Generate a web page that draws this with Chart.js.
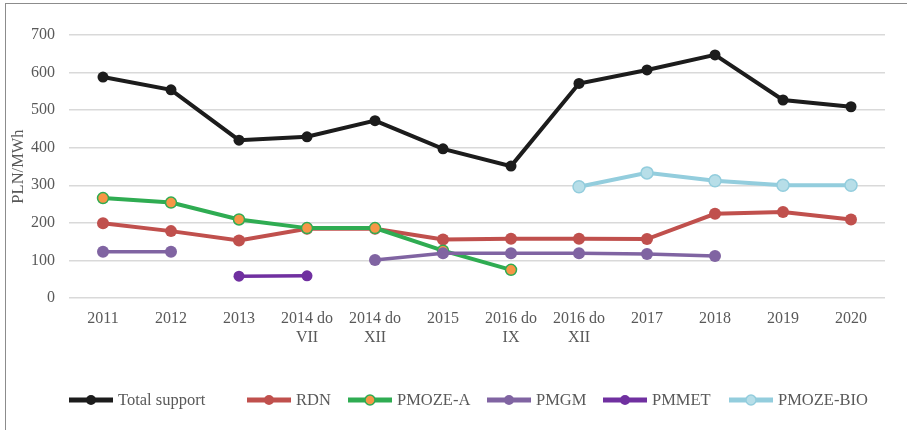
<!DOCTYPE html>
<html>
<head>
<meta charset="utf-8">
<script src="https://cdn.jsdelivr.net/npm/chart.js@4.4.1/dist/chart.umd.min.js"></script>
<style>
  html, body { margin: 0; padding: 0; background: #fff; }
  #wrap { position: relative; width: 907px; height: 430px; overflow: hidden; }
  #frame { position: absolute; left: 5px; top: 3px; width: 920px; height: 440px;
           border-top: 1.5px solid #8c8c8c; border-left: 1.5px solid #8c8c8c; box-sizing: border-box; pointer-events: none; }
  canvas { position: absolute; left: 0; top: 0; }
</style>
</head>
<body>
<div id="wrap">
  <canvas id="c" width="907" height="430"></canvas>
  <div id="frame"></div>
</div>
<script>
const categories = ['2011', '2012', '2013', ['2014 do', 'VII'], ['2014 do', 'XII'], '2015',
  ['2016 do', 'IX'], ['2016 do', 'XII'], '2017', '2018', '2019', '2020'];
const seriesNames = ['Total support', 'RDN', 'PMOZE-A', 'PMGM', 'PMMET', 'PMOZE-BIO'];
const totalSupport = [588, 554, 420, 429, 472, 397, 351, 571, 607, 647, 527, 509];
const rdn = [199, 178, 153, 184, 184, 156, 158, 158, 157, 224, 229, 209];
const pmozeA = [266, 254, 209, 186, 186, 126, 75, null, null, null, null, null];
const pmgm = [123, 123, null, null, 101, 119, 119, 119, 117, 112, null, null];
const pmmet = [null, null, 58, 59, null, null, null, null, null, null, null, null];
const pmozeBio = [null, null, null, null, null, null, null, 296, 333, 312, 300, 300];
const yTicks = [0, 100, 200, 300, 400, 500, 600, 700];

const FONT = "'Liberation Serif', 'Times New Roman', serif";
const TXT = '#595959';

const styles = [
  { line: '#1c1c1c', fill: '#1c1c1c', border: '#1c1c1c', lw: 4, r: 5.5 },
  { line: '#c0504d', fill: '#c0504d', border: '#c0504d', lw: 4, r: 6 },
  { line: '#2fac52', fill: '#f79646', border: '#2fac52', lw: 4, r: 5.5 },
  { line: '#8064a2', fill: '#8064a2', border: '#8064a2', lw: 3.5, r: 6 },
  { line: '#7030a0', fill: '#7030a0', border: '#7030a0', lw: 3.5, r: 5.5 },
  { line: '#93cddd', fill: '#b7dee8', border: '#93cddd', lw: 4, r: 6 }
];
const seriesData = [totalSupport, rdn, pmozeA, pmgm, pmmet, pmozeBio];

const datasets = seriesData.map((d, i) => ({
  label: seriesNames[i],
  data: d,
  borderColor: styles[i].line,
  backgroundColor: styles[i].fill,
  pointBackgroundColor: styles[i].fill,
  pointBorderColor: styles[i].border,
  pointBorderWidth: (i === 2 || i === 5) ? 1.5 : 0,
  borderWidth: styles[i].lw,
  pointRadius: styles[i].r,
  pointHoverRadius: styles[i].r,
  tension: 0,
  spanGaps: false,
  order: 10 - i
}));

const legendStarts = [69, 247, 348, 487, 603, 729];
const legendPlugin = {
  id: 'customLegend',
  afterDraw(chart) {
    const ctx = chart.ctx;
    const y = 400;
    ctx.save();
    chart.data.datasets.forEach((ds, i) => {
      const x1 = legendStarts[i], x2 = x1 + 44;
      ctx.beginPath();
      ctx.strokeStyle = ds.borderColor;
      ctx.lineWidth = 5;
      ctx.lineCap = 'butt';
      ctx.moveTo(x1, y); ctx.lineTo(x2, y);
      ctx.stroke();
      ctx.beginPath();
      ctx.arc((x1 + x2) / 2, y, 5, 0, Math.PI * 2);
      ctx.fillStyle = ds.pointBackgroundColor;
      ctx.fill();
      if (ds.pointBorderWidth > 0) {
        ctx.lineWidth = 1.5;
        ctx.strokeStyle = ds.pointBorderColor;
        ctx.stroke();
      }
      ctx.fillStyle = TXT;
      ctx.font = "16.5px " + FONT;
      ctx.textBaseline = 'middle';
      ctx.textAlign = 'left';
      ctx.fillText(ds.label, x2 + 5, y + 1);
    });
    ctx.restore();
  }
};

new Chart(document.getElementById('c'), {
  type: 'line',
  data: { labels: categories, datasets },
  plugins: [legendPlugin],
  options: {
    responsive: false,
    animation: false,
    events: [],
    layout: { padding: { left: 0, right: 22, top: 35, bottom: 0 } },
    plugins: { legend: { display: false }, tooltip: { enabled: false } },
    scales: {
      x: {
        offset: true,
        grid: { display: false, drawTicks: false, offset: true },
        border: { display: false },
        ticks: { color: TXT, font: { family: FONT, size: 16, lineHeight: 1.15 }, padding: 12, maxRotation: 0, autoSkip: false },
        afterFit(scale) { scale.height = 132; }
      },
      y: {
        min: 0, max: 700,
        afterBuildTicks(scale) { scale.ticks = yTicks.map(v => ({ value: v })); },
        grid: { color: '#d9d9d9', lineWidth: 1.5, drawTicks: false },
        border: { display: false },
        ticks: { color: TXT, font: { family: FONT, size: 16 }, padding: 14 },
        title: { display: true, text: 'PLN/MWh', color: TXT, font: { family: FONT, size: 16.5 }, padding: { top: 9, bottom: 0 } },
        afterFit(scale) { scale.width = 69; }
      }
    }
  }
});
</script>
</body>
</html>
